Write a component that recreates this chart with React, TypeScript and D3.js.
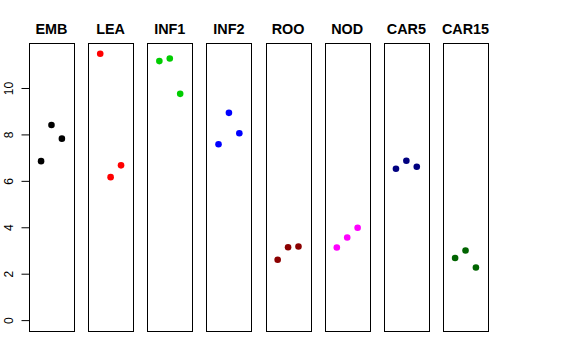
import React from "react";
import * as d3 from "d3";

const categories = ["EMB", "LEA", "INF1", "INF2", "ROO", "NOD", "CAR5", "CAR15"];
const colors = ["#000000", "#FF0000", "#00CD00", "#0000FF", "#8B0000", "#FF00FF", "#000080", "#006400"];
const rep1 = [6.87, 11.5, 11.18, 7.6, 2.62, 3.15, 6.54, 2.7];
const rep2 = [8.43, 6.18, 11.29, 8.95, 3.16, 3.58, 6.89, 3.02];
const rep3 = [7.84, 6.69, 9.77, 8.07, 3.19, 4.0, 6.63, 2.29];
const yTicks = [0, 2, 4, 6, 8, 10];

const W = 576;
const H = 360;

export default function App() {
  const yMax = 11.5;
  const pad = yMax * 0.04;
  const y = d3.scaleLinear().domain([-pad, yMax + pad]).range([331.3, 43]);
  const band = d3.scaleBand<string>().domain(categories).range([29, 488]).paddingInner(0.24);
  const bw = band.bandwidth();
  const reps = [rep1, rep2, rep3];
  const font = "'Liberation Sans', Arial, Helvetica, sans-serif";

  return (
    <svg width={W} height={H} style={{ position: "absolute", left: 0, top: 0, background: "#fff" }}>
      <rect x={0} y={0} width={W} height={H} fill="#fff" />
      {categories.map((c, i) => {
        const x0 = band(c)!;
        const xs = d3.scaleLinear().domain([-0.16, 4.16]).range([x0, x0 + bw]);
        return (
          <g key={c}>
            <text
              x={x0 + bw / 2}
              y={34}
              textAnchor="middle"
              fontFamily={font}
              fontWeight="bold"
              fontSize={14.4}
              fill="#000"
            >
              {c}
            </text>
            <rect
              x={Math.round(x0) + 0.5}
              y={43.5}
              width={Math.round(bw)}
              height={288}
              fill="none"
              stroke="#000"
              strokeWidth={1}
            />
            {reps.map((r, j) => (
              <circle key={j} cx={xs(j + 1)} cy={y(r[i])} r={3.3} fill={colors[i]} />
            ))}
          </g>
        );
      })}
      <g>
        <line x1={29.5} x2={29.5} y1={y(0)} y2={y(10)} stroke="#000" strokeWidth={1} />
        {yTicks.map((t) => (
          <g key={t}>
            <line x1={21.5} x2={29.5} y1={y(t)} y2={y(t)} stroke="#000" strokeWidth={1} />
            <text
              transform={`translate(13.3,${y(t)}) rotate(-90)`}
              textAnchor="middle"
              fontFamily={font}
              fontSize={12}
              fill="#000"
            >
              {t}
            </text>
          </g>
        ))}
      </g>
    </svg>
  );
}
